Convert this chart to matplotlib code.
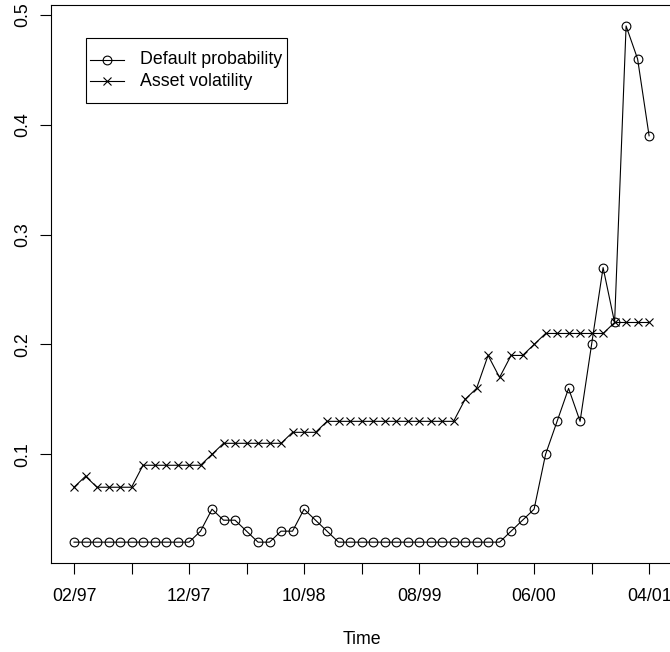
import matplotlib
matplotlib.use("Agg")
import matplotlib.pyplot as plt
from matplotlib.lines import Line2D
from matplotlib.patches import Rectangle
import numpy as np

plt.rcParams['font.family'] = ['Liberation Sans', 'DejaVu Sans']

# Monthly observations, 02/97 .. 04/01
months = np.arange(51)
default_prob = [0.02] * 11 + [0.03, 0.05, 0.04, 0.04, 0.03, 0.02, 0.02, 0.03, 0.03,
                              0.05, 0.04, 0.03] + [0.02] * 15 + \
               [0.03, 0.04, 0.05, 0.10, 0.13, 0.16, 0.13, 0.20, 0.27, 0.22, 0.49, 0.46, 0.39]
asset_vol = [0.07, 0.08] + [0.07] * 4 + [0.09] * 6 + [0.10] + [0.11] * 6 + [0.12] * 3 + \
            [0.13] * 12 + [0.15, 0.16, 0.19, 0.17, 0.19, 0.19, 0.20] + [0.21] * 6 + [0.22] * 4

tick_months = [0, 10, 20, 30, 40, 50]
tick_labels = ["02/97", "12/97", "10/98", "08/99", "06/00", "04/01"]
minor_months = [5, 15, 25, 35, 45]
y_ticks = [0.1, 0.2, 0.3, 0.4, 0.5]

W, H = 670, 652
fig = plt.figure(figsize=(W / 100, H / 100), dpi=100)


def fx(x):
    return x / W


def fy(y):
    return 1 - y / H


left, right, top, bottom = 51.0, 672.1, 5.3, 562.8
ax = fig.add_axes([fx(left), fy(bottom), fx(right - left), (bottom - top) / H])

lw = 0.8
fs = 12.8
ms_o, ms_x = 6.3, 6.3
ax.plot(months, default_prob, color='black', lw=lw, marker='o', ms=ms_o,
        mfc='none', mec='black', mew=lw)
ax.plot(months, asset_vol, color='black', lw=lw, marker='x', ms=ms_x,
        mec='black', mew=lw)

ax.set_xlim(-2, 52)
ax.set_ylim(0.0012, 0.5088)

ax.set_xticks(tick_months + minor_months)
ax.set_xticklabels(tick_labels + [""] * len(minor_months))
ax.set_yticks(y_ticks)
ax.set_yticklabels(["0.1", "0.2", "0.3", "0.4", "0.5"])
ax.tick_params(axis='x', length=8, width=lw, labelsize=fs, pad=10)
ax.tick_params(axis='y', length=8, width=lw, labelsize=fs, pad=6, labelrotation=90)
for lab in ax.get_yticklabels():
    lab.set_va('center')
for s in ax.spines.values():
    s.set_linewidth(lw)

fig.text(fx(362), fy(640), "Time", ha='center', va='center', fontsize=fs)

# legend drawn in figure pixel space
fig.patches.append(Rectangle((fx(86), fy(103)), fx(287 - 86), (103 - 38) / H,
                             transform=fig.transFigure, fill=False,
                             edgecolor='black', lw=lw))
for yy, mk, ms, name in [(60, 'o', ms_o, "Default probability"),
                         (81, 'x', ms_x, "Asset volatility")]:
    fig.lines.append(Line2D([fx(90), fx(124)], [fy(yy), fy(yy)],
                            transform=fig.transFigure, color='black', lw=lw))
    fig.lines.append(Line2D([fx(107)], [fy(yy)], transform=fig.transFigure,
                            marker=mk, ms=ms, mfc='none', mec='black', mew=lw,
                            linestyle='none'))
    fig.text(fx(140), fy(yy), name, ha='left', va='center', fontsize=fs)

fig.savefig("out.png", dpi=100)
